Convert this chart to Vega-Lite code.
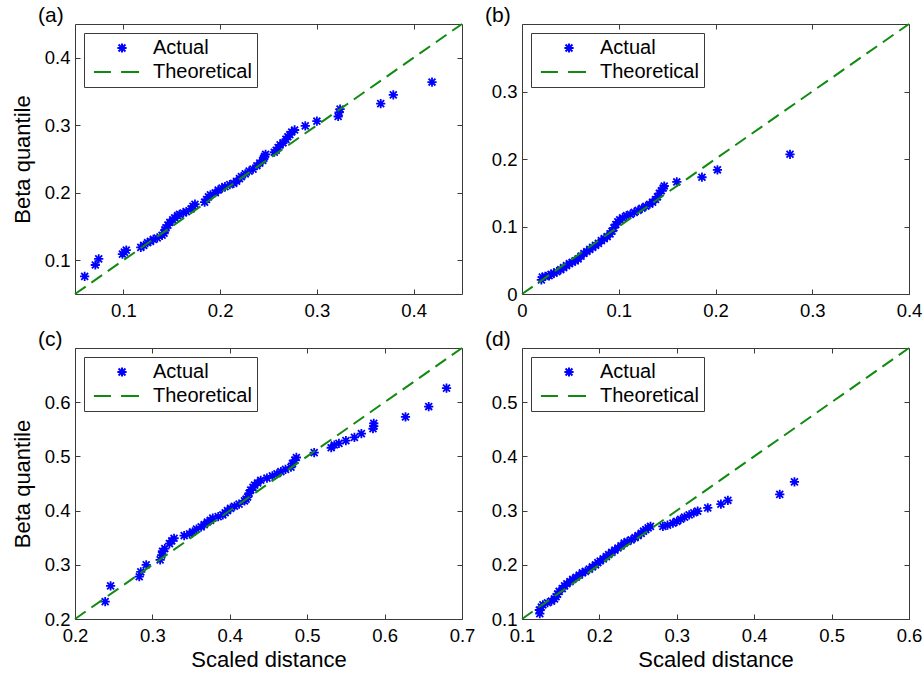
{
  "$schema": "https://vega.github.io/schema/vega-lite/v6.json",
  "background": "white",
  "padding": {"left": 10, "top": 4, "right": 10, "bottom": 5},
  "columns": 2,
  "spacing": {"row": 54, "column": 60},
  "bounds": "flush",
  "datasets": {
    "pts": [
      {"p":"a","s":"Actual","x":0.060,"y":0.076},{"p":"a","s":"Actual","x":0.071,"y":0.093},{"p":"a","s":"Actual","x":0.0745,"y":0.102},
      {"p":"a","s":"Actual","x":0.099,"y":0.109},{"p":"a","s":"Actual","x":0.101,"y":0.112},{"p":"a","s":"Actual","x":0.103,"y":0.115},
      {"p":"a","s":"Actual","x":0.118,"y":0.119},{"p":"a","s":"Actual","x":0.121,"y":0.122},{"p":"a","s":"Actual","x":0.125,"y":0.126},
      {"p":"a","s":"Actual","x":0.128,"y":0.128},{"p":"a","s":"Actual","x":0.131,"y":0.131},{"p":"a","s":"Actual","x":0.135,"y":0.133},
      {"p":"a","s":"Actual","x":0.140,"y":0.137},{"p":"a","s":"Actual","x":0.142,"y":0.140},{"p":"a","s":"Actual","x":0.143,"y":0.145},
      {"p":"a","s":"Actual","x":0.144,"y":0.148},{"p":"a","s":"Actual","x":0.146,"y":0.152},{"p":"a","s":"Actual","x":0.148,"y":0.156},
      {"p":"a","s":"Actual","x":0.151,"y":0.160},{"p":"a","s":"Actual","x":0.153,"y":0.163},{"p":"a","s":"Actual","x":0.156,"y":0.166},
      {"p":"a","s":"Actual","x":0.158,"y":0.168},{"p":"a","s":"Actual","x":0.162,"y":0.170},{"p":"a","s":"Actual","x":0.165,"y":0.172},
      {"p":"a","s":"Actual","x":0.170,"y":0.176},{"p":"a","s":"Actual","x":0.172,"y":0.180},{"p":"a","s":"Actual","x":0.174,"y":0.183},
      {"p":"a","s":"Actual","x":0.184,"y":0.186},{"p":"a","s":"Actual","x":0.186,"y":0.190},{"p":"a","s":"Actual","x":0.188,"y":0.194},
      {"p":"a","s":"Actual","x":0.190,"y":0.197},{"p":"a","s":"Actual","x":0.195,"y":0.200},{"p":"a","s":"Actual","x":0.198,"y":0.204},
      {"p":"a","s":"Actual","x":0.202,"y":0.207},{"p":"a","s":"Actual","x":0.205,"y":0.209},{"p":"a","s":"Actual","x":0.210,"y":0.212},
      {"p":"a","s":"Actual","x":0.214,"y":0.214},{"p":"a","s":"Actual","x":0.217,"y":0.217},{"p":"a","s":"Actual","x":0.220,"y":0.221},
      {"p":"a","s":"Actual","x":0.222,"y":0.224},{"p":"a","s":"Actual","x":0.226,"y":0.228},{"p":"a","s":"Actual","x":0.230,"y":0.232},
      {"p":"a","s":"Actual","x":0.234,"y":0.235},{"p":"a","s":"Actual","x":0.238,"y":0.240},{"p":"a","s":"Actual","x":0.241,"y":0.244},
      {"p":"a","s":"Actual","x":0.244,"y":0.248},{"p":"a","s":"Actual","x":0.245,"y":0.251},{"p":"a","s":"Actual","x":0.246,"y":0.254},
      {"p":"a","s":"Actual","x":0.247,"y":0.257},{"p":"a","s":"Actual","x":0.256,"y":0.260},{"p":"a","s":"Actual","x":0.258,"y":0.263},
      {"p":"a","s":"Actual","x":0.260,"y":0.267},{"p":"a","s":"Actual","x":0.262,"y":0.271},{"p":"a","s":"Actual","x":0.265,"y":0.274},
      {"p":"a","s":"Actual","x":0.268,"y":0.279},{"p":"a","s":"Actual","x":0.270,"y":0.283},{"p":"a","s":"Actual","x":0.272,"y":0.286},
      {"p":"a","s":"Actual","x":0.274,"y":0.290},{"p":"a","s":"Actual","x":0.277,"y":0.293},{"p":"a","s":"Actual","x":0.288,"y":0.299},
      {"p":"a","s":"Actual","x":0.300,"y":0.306},{"p":"a","s":"Actual","x":0.322,"y":0.313},{"p":"a","s":"Actual","x":0.323,"y":0.319},
      {"p":"a","s":"Actual","x":0.324,"y":0.324},{"p":"a","s":"Actual","x":0.366,"y":0.332},{"p":"a","s":"Actual","x":0.379,"y":0.345},
      {"p":"a","s":"Actual","x":0.419,"y":0.364},

      {"p":"b","s":"Actual","x":0.020,"y":0.021},{"p":"b","s":"Actual","x":0.021,"y":0.025},{"p":"b","s":"Actual","x":0.024,"y":0.026},
      {"p":"b","s":"Actual","x":0.028,"y":0.027},{"p":"b","s":"Actual","x":0.030,"y":0.029},{"p":"b","s":"Actual","x":0.033,"y":0.031},
      {"p":"b","s":"Actual","x":0.036,"y":0.033},{"p":"b","s":"Actual","x":0.040,"y":0.036},{"p":"b","s":"Actual","x":0.043,"y":0.039},
      {"p":"b","s":"Actual","x":0.046,"y":0.042},{"p":"b","s":"Actual","x":0.049,"y":0.045},{"p":"b","s":"Actual","x":0.052,"y":0.047},
      {"p":"b","s":"Actual","x":0.055,"y":0.049},{"p":"b","s":"Actual","x":0.058,"y":0.052},{"p":"b","s":"Actual","x":0.061,"y":0.056},
      {"p":"b","s":"Actual","x":0.064,"y":0.060},{"p":"b","s":"Actual","x":0.067,"y":0.063},{"p":"b","s":"Actual","x":0.070,"y":0.066},
      {"p":"b","s":"Actual","x":0.073,"y":0.069},{"p":"b","s":"Actual","x":0.076,"y":0.072},{"p":"b","s":"Actual","x":0.079,"y":0.075},
      {"p":"b","s":"Actual","x":0.082,"y":0.079},{"p":"b","s":"Actual","x":0.085,"y":0.082},{"p":"b","s":"Actual","x":0.088,"y":0.085},
      {"p":"b","s":"Actual","x":0.091,"y":0.089},{"p":"b","s":"Actual","x":0.093,"y":0.093},{"p":"b","s":"Actual","x":0.095,"y":0.098},
      {"p":"b","s":"Actual","x":0.097,"y":0.103},{"p":"b","s":"Actual","x":0.099,"y":0.107},{"p":"b","s":"Actual","x":0.101,"y":0.110},
      {"p":"b","s":"Actual","x":0.104,"y":0.113},{"p":"b","s":"Actual","x":0.108,"y":0.116},{"p":"b","s":"Actual","x":0.112,"y":0.118},
      {"p":"b","s":"Actual","x":0.116,"y":0.121},{"p":"b","s":"Actual","x":0.120,"y":0.124},{"p":"b","s":"Actual","x":0.124,"y":0.127},
      {"p":"b","s":"Actual","x":0.128,"y":0.130},{"p":"b","s":"Actual","x":0.132,"y":0.133},{"p":"b","s":"Actual","x":0.135,"y":0.136},
      {"p":"b","s":"Actual","x":0.138,"y":0.140},{"p":"b","s":"Actual","x":0.140,"y":0.144},{"p":"b","s":"Actual","x":0.142,"y":0.149},
      {"p":"b","s":"Actual","x":0.144,"y":0.153},{"p":"b","s":"Actual","x":0.146,"y":0.157},{"p":"b","s":"Actual","x":0.147,"y":0.160},
      {"p":"b","s":"Actual","x":0.160,"y":0.166},{"p":"b","s":"Actual","x":0.186,"y":0.173},{"p":"b","s":"Actual","x":0.202,"y":0.184},
      {"p":"b","s":"Actual","x":0.277,"y":0.207},

      {"p":"c","s":"Actual","x":0.239,"y":0.232},{"p":"c","s":"Actual","x":0.246,"y":0.261},{"p":"c","s":"Actual","x":0.283,"y":0.278},
      {"p":"c","s":"Actual","x":0.285,"y":0.287},{"p":"c","s":"Actual","x":0.292,"y":0.300},{"p":"c","s":"Actual","x":0.310,"y":0.309},
      {"p":"c","s":"Actual","x":0.312,"y":0.318},{"p":"c","s":"Actual","x":0.313,"y":0.325},{"p":"c","s":"Actual","x":0.316,"y":0.330},
      {"p":"c","s":"Actual","x":0.322,"y":0.339},{"p":"c","s":"Actual","x":0.325,"y":0.344},{"p":"c","s":"Actual","x":0.328,"y":0.349},
      {"p":"c","s":"Actual","x":0.341,"y":0.354},{"p":"c","s":"Actual","x":0.348,"y":0.357},{"p":"c","s":"Actual","x":0.352,"y":0.361},
      {"p":"c","s":"Actual","x":0.357,"y":0.366},{"p":"c","s":"Actual","x":0.363,"y":0.370},{"p":"c","s":"Actual","x":0.367,"y":0.374},
      {"p":"c","s":"Actual","x":0.371,"y":0.379},{"p":"c","s":"Actual","x":0.375,"y":0.382},{"p":"c","s":"Actual","x":0.378,"y":0.386},
      {"p":"c","s":"Actual","x":0.385,"y":0.389},{"p":"c","s":"Actual","x":0.391,"y":0.392},{"p":"c","s":"Actual","x":0.394,"y":0.396},
      {"p":"c","s":"Actual","x":0.397,"y":0.400},{"p":"c","s":"Actual","x":0.401,"y":0.404},{"p":"c","s":"Actual","x":0.406,"y":0.408},
      {"p":"c","s":"Actual","x":0.412,"y":0.412},{"p":"c","s":"Actual","x":0.419,"y":0.418},{"p":"c","s":"Actual","x":0.421,"y":0.421},
      {"p":"c","s":"Actual","x":0.423,"y":0.425},{"p":"c","s":"Actual","x":0.425,"y":0.432},{"p":"c","s":"Actual","x":0.427,"y":0.438},
      {"p":"c","s":"Actual","x":0.430,"y":0.443},{"p":"c","s":"Actual","x":0.432,"y":0.447},{"p":"c","s":"Actual","x":0.436,"y":0.451},
      {"p":"c","s":"Actual","x":0.440,"y":0.456},{"p":"c","s":"Actual","x":0.448,"y":0.460},{"p":"c","s":"Actual","x":0.455,"y":0.464},
      {"p":"c","s":"Actual","x":0.461,"y":0.468},{"p":"c","s":"Actual","x":0.466,"y":0.472},{"p":"c","s":"Actual","x":0.472,"y":0.476},
      {"p":"c","s":"Actual","x":0.479,"y":0.480},{"p":"c","s":"Actual","x":0.481,"y":0.487},{"p":"c","s":"Actual","x":0.484,"y":0.493},
      {"p":"c","s":"Actual","x":0.486,"y":0.498},{"p":"c","s":"Actual","x":0.509,"y":0.507},{"p":"c","s":"Actual","x":0.531,"y":0.516},
      {"p":"c","s":"Actual","x":0.535,"y":0.521},{"p":"c","s":"Actual","x":0.541,"y":0.524},{"p":"c","s":"Actual","x":0.550,"y":0.529},
      {"p":"c","s":"Actual","x":0.561,"y":0.535},{"p":"c","s":"Actual","x":0.570,"y":0.542},{"p":"c","s":"Actual","x":0.585,"y":0.551},
      {"p":"c","s":"Actual","x":0.586,"y":0.556},{"p":"c","s":"Actual","x":0.586,"y":0.561},{"p":"c","s":"Actual","x":0.627,"y":0.573},
      {"p":"c","s":"Actual","x":0.657,"y":0.592},{"p":"c","s":"Actual","x":0.680,"y":0.626},

      {"p":"d","s":"Actual","x":0.123,"y":0.110},{"p":"d","s":"Actual","x":0.1224,"y":0.1166},{"p":"d","s":"Actual","x":0.125,"y":0.122},
      {"p":"d","s":"Actual","x":0.127,"y":0.126},{"p":"d","s":"Actual","x":0.133,"y":0.130},{"p":"d","s":"Actual","x":0.138,"y":0.133},
      {"p":"d","s":"Actual","x":0.142,"y":0.137},{"p":"d","s":"Actual","x":0.144,"y":0.141},{"p":"d","s":"Actual","x":0.146,"y":0.146},
      {"p":"d","s":"Actual","x":0.148,"y":0.151},{"p":"d","s":"Actual","x":0.152,"y":0.156},{"p":"d","s":"Actual","x":0.155,"y":0.161},
      {"p":"d","s":"Actual","x":0.158,"y":0.165},{"p":"d","s":"Actual","x":0.162,"y":0.169},{"p":"d","s":"Actual","x":0.1655,"y":0.173},
      {"p":"d","s":"Actual","x":0.170,"y":0.177},{"p":"d","s":"Actual","x":0.174,"y":0.181},{"p":"d","s":"Actual","x":0.178,"y":0.185},
      {"p":"d","s":"Actual","x":0.182,"y":0.188},{"p":"d","s":"Actual","x":0.187,"y":0.192},{"p":"d","s":"Actual","x":0.191,"y":0.196},
      {"p":"d","s":"Actual","x":0.195,"y":0.200},{"p":"d","s":"Actual","x":0.198,"y":0.204},{"p":"d","s":"Actual","x":0.201,"y":0.207},
      {"p":"d","s":"Actual","x":0.205,"y":0.211},{"p":"d","s":"Actual","x":0.209,"y":0.215},{"p":"d","s":"Actual","x":0.212,"y":0.219},
      {"p":"d","s":"Actual","x":0.216,"y":0.223},{"p":"d","s":"Actual","x":0.220,"y":0.227},{"p":"d","s":"Actual","x":0.224,"y":0.231},
      {"p":"d","s":"Actual","x":0.228,"y":0.235},{"p":"d","s":"Actual","x":0.232,"y":0.240},{"p":"d","s":"Actual","x":0.236,"y":0.243},
      {"p":"d","s":"Actual","x":0.241,"y":0.246},{"p":"d","s":"Actual","x":0.246,"y":0.250},{"p":"d","s":"Actual","x":0.250,"y":0.254},
      {"p":"d","s":"Actual","x":0.254,"y":0.258},{"p":"d","s":"Actual","x":0.257,"y":0.262},{"p":"d","s":"Actual","x":0.260,"y":0.265},
      {"p":"d","s":"Actual","x":0.263,"y":0.268},{"p":"d","s":"Actual","x":0.266,"y":0.271},{"p":"d","s":"Actual","x":0.282,"y":0.271},
      {"p":"d","s":"Actual","x":0.288,"y":0.273},{"p":"d","s":"Actual","x":0.295,"y":0.277},{"p":"d","s":"Actual","x":0.300,"y":0.280},
      {"p":"d","s":"Actual","x":0.305,"y":0.284},{"p":"d","s":"Actual","x":0.310,"y":0.288},{"p":"d","s":"Actual","x":0.316,"y":0.292},
      {"p":"d","s":"Actual","x":0.322,"y":0.296},{"p":"d","s":"Actual","x":0.327,"y":0.299},{"p":"d","s":"Actual","x":0.340,"y":0.305},
      {"p":"d","s":"Actual","x":0.357,"y":0.312},{"p":"d","s":"Actual","x":0.366,"y":0.319},{"p":"d","s":"Actual","x":0.433,"y":0.330},
      {"p":"d","s":"Actual","x":0.452,"y":0.353}
    ],
    "ref": [
      {"p":"a","x":0.05,"y":0.05},{"p":"a","x":0.45,"y":0.45},
      {"p":"b","x":0.0,"y":0.0},{"p":"b","x":0.4,"y":0.4},
      {"p":"c","x":0.2,"y":0.2},{"p":"c","x":0.7,"y":0.7},
      {"p":"d","x":0.1,"y":0.1},{"p":"d","x":0.6,"y":0.6}
    ]
  },
  "concat": [
    {
      "width": 387, "height": 270,
      "title": {"text": "(a)"},
      "layer": [
        {
          "data": {"name": "pts"},
          "transform": [{"filter": "datum.p === 'a'"}],
          "mark": {"type": "point", "filled": false, "strokeWidth": 1.8, "size": 85},
          "encoding": {
            "x": {"field": "x", "type": "quantitative", "scale": {"domain": [0.05, 0.45], "nice": false, "zero": false}, "axis": {"values": [0.1, 0.2, 0.3, 0.4], "title": null}},
            "y": {"field": "y", "type": "quantitative", "scale": {"domain": [0.05, 0.45], "nice": false, "zero": false}, "axis": {"values": [0.1, 0.2, 0.3, 0.4], "title": "Beta quantile"}},
            "color": {"field": "s", "type": "nominal", "scale": {"domain": ["Actual", "Theoretical"], "range": ["#0000ff", "#108a10"]}, "title": null},
            "shape": {"field": "s", "type": "nominal", "scale": {"domain": ["Actual", "Theoretical"], "range": ["M0,-1L0,1M-1,0L1,0M-0.75,-0.75L0.75,0.75M-0.75,0.75L0.75,-0.75", "M-6.1,0L-2.4,0M-0.2,0L3.7,0"]}, "title": null}
          }
        },
        {
          "data": {"name": "ref"},
          "transform": [{"filter": "datum.p === 'a'"}],
          "mark": {"type": "line", "color": "#108a10", "strokeWidth": 2, "strokeDash": [13, 7]},
          "encoding": {
            "x": {"field": "x", "type": "quantitative", "scale": {"domain": [0.05, 0.45], "nice": false, "zero": false}, "axis": {"orient": "top", "values": [0.1, 0.2, 0.3, 0.4], "labels": false, "title": null}},
            "y": {"field": "y", "type": "quantitative", "scale": {"domain": [0.05, 0.45], "nice": false, "zero": false}, "axis": {"orient": "right", "values": [0.1, 0.2, 0.3, 0.4], "labels": false, "title": null}}
          }
        }
      ],
      "resolve": {"axis": {"x": "independent", "y": "independent"}}
    },
    {
      "width": 387, "height": 270,
      "title": {"text": "(b)"},
      "layer": [
        {
          "data": {"name": "pts"},
          "transform": [{"filter": "datum.p === 'b'"}],
          "mark": {"type": "point", "filled": false, "strokeWidth": 1.8, "size": 85},
          "encoding": {
            "x": {"field": "x", "type": "quantitative", "scale": {"domain": [0, 0.4], "nice": false, "zero": false}, "axis": {"values": [0, 0.1, 0.2, 0.3, 0.4], "title": null}},
            "y": {"field": "y", "type": "quantitative", "scale": {"domain": [0, 0.4], "nice": false, "zero": false}, "axis": {"values": [0, 0.1, 0.2, 0.3], "title": null}},
            "color": {"field": "s", "type": "nominal", "scale": {"domain": ["Actual", "Theoretical"], "range": ["#0000ff", "#108a10"]}, "title": null},
            "shape": {"field": "s", "type": "nominal", "scale": {"domain": ["Actual", "Theoretical"], "range": ["M0,-1L0,1M-1,0L1,0M-0.75,-0.75L0.75,0.75M-0.75,0.75L0.75,-0.75", "M-6.1,0L-2.4,0M-0.2,0L3.7,0"]}, "title": null}
          }
        },
        {
          "data": {"name": "ref"},
          "transform": [{"filter": "datum.p === 'b'"}],
          "mark": {"type": "line", "color": "#108a10", "strokeWidth": 2, "strokeDash": [13, 7]},
          "encoding": {
            "x": {"field": "x", "type": "quantitative", "scale": {"domain": [0, 0.4], "nice": false, "zero": false}, "axis": {"orient": "top", "values": [0, 0.1, 0.2, 0.3, 0.4], "labels": false, "title": null}},
            "y": {"field": "y", "type": "quantitative", "scale": {"domain": [0, 0.4], "nice": false, "zero": false}, "axis": {"orient": "right", "values": [0, 0.1, 0.2, 0.3], "labels": false, "title": null}}
          }
        }
      ],
      "resolve": {"axis": {"x": "independent", "y": "independent"}}
    },
    {
      "width": 387, "height": 271,
      "title": {"text": "(c)"},
      "layer": [
        {
          "data": {"name": "pts"},
          "transform": [{"filter": "datum.p === 'c'"}],
          "mark": {"type": "point", "filled": false, "strokeWidth": 1.8, "size": 85},
          "encoding": {
            "x": {"field": "x", "type": "quantitative", "scale": {"domain": [0.2, 0.7], "nice": false, "zero": false}, "axis": {"values": [0.2, 0.3, 0.4, 0.5, 0.6, 0.7], "title": "Scaled distance"}},
            "y": {"field": "y", "type": "quantitative", "scale": {"domain": [0.2, 0.7], "nice": false, "zero": false}, "axis": {"values": [0.2, 0.3, 0.4, 0.5, 0.6], "title": "Beta quantile"}},
            "color": {"field": "s", "type": "nominal", "scale": {"domain": ["Actual", "Theoretical"], "range": ["#0000ff", "#108a10"]}, "title": null},
            "shape": {"field": "s", "type": "nominal", "scale": {"domain": ["Actual", "Theoretical"], "range": ["M0,-1L0,1M-1,0L1,0M-0.75,-0.75L0.75,0.75M-0.75,0.75L0.75,-0.75", "M-6.1,0L-2.4,0M-0.2,0L3.7,0"]}, "title": null}
          }
        },
        {
          "data": {"name": "ref"},
          "transform": [{"filter": "datum.p === 'c'"}],
          "mark": {"type": "line", "color": "#108a10", "strokeWidth": 2, "strokeDash": [13, 7]},
          "encoding": {
            "x": {"field": "x", "type": "quantitative", "scale": {"domain": [0.2, 0.7], "nice": false, "zero": false}, "axis": {"orient": "top", "values": [0.2, 0.3, 0.4, 0.5, 0.6, 0.7], "labels": false, "title": null}},
            "y": {"field": "y", "type": "quantitative", "scale": {"domain": [0.2, 0.7], "nice": false, "zero": false}, "axis": {"orient": "right", "values": [0.2, 0.3, 0.4, 0.5, 0.6], "labels": false, "title": null}}
          }
        }
      ],
      "resolve": {"axis": {"x": "independent", "y": "independent"}}
    },
    {
      "width": 387, "height": 271,
      "title": {"text": "(d)"},
      "layer": [
        {
          "data": {"name": "pts"},
          "transform": [{"filter": "datum.p === 'd'"}],
          "mark": {"type": "point", "filled": false, "strokeWidth": 1.8, "size": 85},
          "encoding": {
            "x": {"field": "x", "type": "quantitative", "scale": {"domain": [0.1, 0.6], "nice": false, "zero": false}, "axis": {"values": [0.1, 0.2, 0.3, 0.4, 0.5, 0.6], "title": "Scaled distance"}},
            "y": {"field": "y", "type": "quantitative", "scale": {"domain": [0.1, 0.6], "nice": false, "zero": false}, "axis": {"values": [0.1, 0.2, 0.3, 0.4, 0.5], "title": null}},
            "color": {"field": "s", "type": "nominal", "scale": {"domain": ["Actual", "Theoretical"], "range": ["#0000ff", "#108a10"]}, "title": null},
            "shape": {"field": "s", "type": "nominal", "scale": {"domain": ["Actual", "Theoretical"], "range": ["M0,-1L0,1M-1,0L1,0M-0.75,-0.75L0.75,0.75M-0.75,0.75L0.75,-0.75", "M-6.1,0L-2.4,0M-0.2,0L3.7,0"]}, "title": null}
          }
        },
        {
          "data": {"name": "ref"},
          "transform": [{"filter": "datum.p === 'd'"}],
          "mark": {"type": "line", "color": "#108a10", "strokeWidth": 2, "strokeDash": [13, 7]},
          "encoding": {
            "x": {"field": "x", "type": "quantitative", "scale": {"domain": [0.1, 0.6], "nice": false, "zero": false}, "axis": {"orient": "top", "values": [0.1, 0.2, 0.3, 0.4, 0.5, 0.6], "labels": false, "title": null}},
            "y": {"field": "y", "type": "quantitative", "scale": {"domain": [0.1, 0.6], "nice": false, "zero": false}, "axis": {"orient": "right", "values": [0.1, 0.2, 0.3, 0.4, 0.5], "labels": false, "title": null}}
          }
        }
      ],
      "resolve": {"axis": {"x": "independent", "y": "independent"}}
    }
  ],
  "resolve": {
    "scale": {"color": "independent", "shape": "independent", "x": "independent", "y": "independent"},
    "legend": {"color": "independent", "shape": "independent"}
  },
  "config": {
    "font": "Liberation Sans",
    "view": {"stroke": "#3a3a3a", "strokeWidth": 1},
    "title": {"anchor": "start", "frame": "group", "dx": -37, "offset": -6, "baseline": "alphabetic", "fontSize": 21, "fontWeight": "normal", "font": "Liberation Sans", "color": "#000"},
    "axis": {
      "domain": false, "grid": false, "tickSize": -5, "tickColor": "#3a3a3a", "tickWidth": 1,
      "labelFont": "Liberation Sans", "labelFontSize": 18.5, "labelColor": "#000", "labelPadding": 10,
      "titleFont": "Liberation Sans", "titleFontSize": 22, "titleFontWeight": "normal", "titleColor": "#000",
      "format": "~g", "labelFlush": false, "labelOverlap": false
    },
    "axisY": {"titlePadding": 10},
    "axisX": {"titlePadding": 5, "labelPadding": 12},
    "legend": {
      "orient": "top-left", "offset": 9, "padding": 5, "strokeColor": "#3a3a3a", "fillColor": "#ffffff",
      "labelFont": "Liberation Sans", "labelFontSize": 20, "labelColor": "#000", "labelOffset": 21,
      "symbolSize": 85, "symbolStrokeWidth": 2, "symbolOffset": 23, "rowPadding": 4, "cornerRadius": 0
    },
    "point": {"opacity": 1}
  }
}
